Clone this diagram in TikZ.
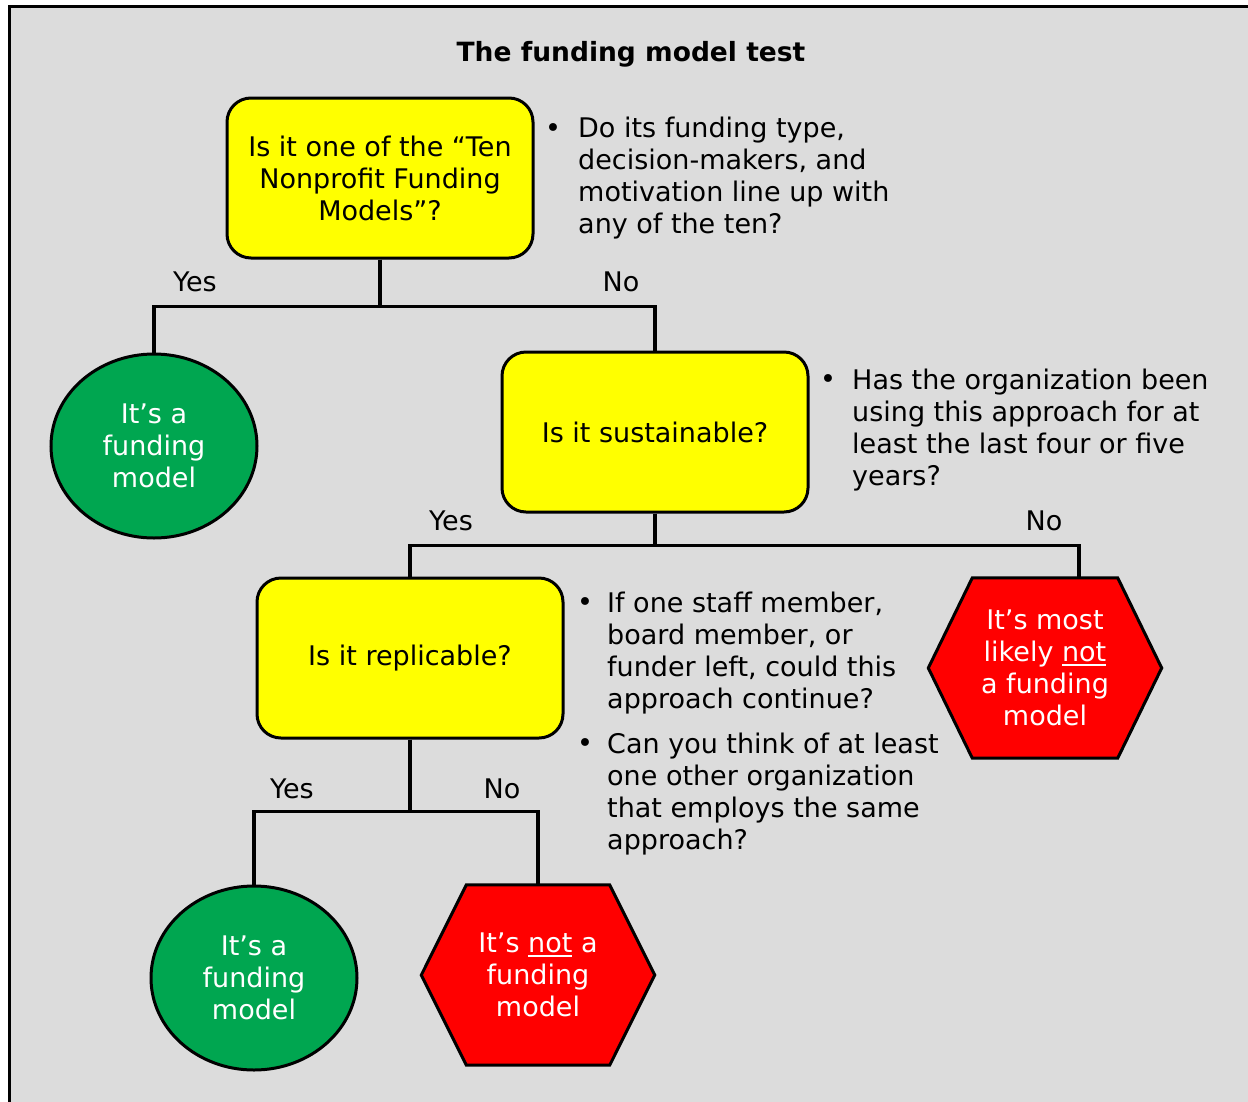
\documentclass[tikz,border=0pt]{standalone}
\usepackage{fontspec}
\setmainfont{DejaVu Sans}
\newsavebox{\ulxbox}
\newcommand{\ulx}[1]{\sbox{\ulxbox}{#1}\rlap{\rule[-4pt]{\wd\ulxbox}{2pt}}\usebox{\ulxbox}}
\usetikzlibrary{shapes.geometric,backgrounds}
\definecolor{bg}{RGB}{220,220,220}
\definecolor{qyellow}{RGB}{255,255,0}
\definecolor{ggreen}{RGB}{0,166,80}
\definecolor{rred}{RGB}{255,0,0}
\begin{document}
\begin{tikzpicture}[x=1pt,y=-1pt,
  txt/.style={font=\fontsize{27}{32}\selectfont},
  question/.style={txt, draw, line width=3pt, fill=qyellow, rounded corners=24pt,
    minimum width=306pt, minimum height=160pt, align=center, inner sep=0pt},
  yesnode/.style={txt, ellipse, draw, line width=3pt, fill=ggreen, text=white,
    minimum width=206pt, minimum height=184pt, align=center, inner sep=0pt},
  nohex/.style={txt, text=white, minimum width=233pt, minimum height=180pt,
    align=center, inner sep=0pt},
  hexshape/.style={line width=3pt, fill=rred, line join=miter},
  conn/.style={line width=3.2pt},
  lab/.style={txt, inner sep=0pt},
  bul/.style={txt, inner sep=0pt},
  note/.style={txt, align=left, anchor=west, inner sep=0pt},
]
\useasboundingbox (0,0) rectangle (1248,1101);
\begin{scope}[on background layer]
  \fill[white] (0,0) rectangle (1248,1101);
  \clip (0,0) rectangle (1248,1101);
  \filldraw[fill=bg, line width=3pt] (9.5,6) rectangle (1300,1150);
\end{scope}

% title
\node[font=\fontsize{26.5}{30}\selectfont\bfseries] (title) at (631,54) {The funding model test};

% questions
\node[question] (q1) at (380,178) {Is it one of the “Ten\\Nonprofit Funding\\Models”?};
\node[question] (q2) at (655,432) {Is it sustainable?};
\node[question] (q3) at (410,658) {Is it replicable?};

% outcomes
\node[yesnode] (c1) at (154,446) {It’s a\\funding\\model};
\node[yesnode] (c2) at (254,978) {It’s a\\funding\\model};

\node[nohex] (h1) at (1045,668) {It’s most\\likely \ulx{not}\\a funding\\model};
\node[nohex] (h2) at (538,975) {It’s \ulx{not} a\\funding\\model};
\begin{scope}[on background layer]
  \draw[hexshape] (h1.west) -- ([xshift=44pt]h1.north west) -- ([xshift=-44pt]h1.north east)
    -- (h1.east) -- ([xshift=-44pt]h1.south east) -- ([xshift=44pt]h1.south west) -- cycle;
  \draw[hexshape] (h2.west) -- ([xshift=45pt]h2.north west) -- ([xshift=-45pt]h2.north east)
    -- (h2.east) -- ([xshift=-45pt]h2.south east) -- ([xshift=45pt]h2.south west) -- cycle;
\end{scope}

% connectors
\draw[conn] (q1.south) -- ++(0,47) -| (c1.north);
\draw[conn] (q1.south) -- ++(0,47) -| (q2.north);
\draw[conn] (q2.south) -- ++(0,32) -| (q3.north);
\draw[conn] (q2.south) -- ++(0,32) -| ([xshift=34pt]h1.north);
\draw[conn] (q3.south) -- ++(0,72) -| (c2.north);
\draw[conn] (q3.south) -- ++(0,72) -| (h2.north);

% labels
\node[lab] (y1) at (195,282) {Yes};
\node[lab] (n1) at (621,282) {No};
\node[lab] (y2) at (451,521) {Yes};
\node[lab] (n2) at (1044,521) {No};
\node[lab] (y3) at (292,789) {Yes};
\node[lab] (n3) at (502,789) {No};

% notes
\node[bul] (b1) at (553,131) {•};
\node[note] (t1) at (578,178.5) {Do its funding type,\\decision-makers, and\\motivation line up with\\any of the ten?};
\node[bul] (b2) at (828,382) {•};
\node[note] (t2) at (852,430) {Has the organization been\\using this approach for at\\least the last four or five\\years?};
\node[bul] (b3) at (585,605) {•};
\node[note] (t3) at (607,653) {If one staff member,\\board member, or\\funder left, could this\\approach continue?};
\node[bul] (b4) at (585,746) {•};
\node[note] (t4) at (607,794) {Can you think of at least\\one other organization\\that employs the same\\approach?};
\end{tikzpicture}
\end{document}
